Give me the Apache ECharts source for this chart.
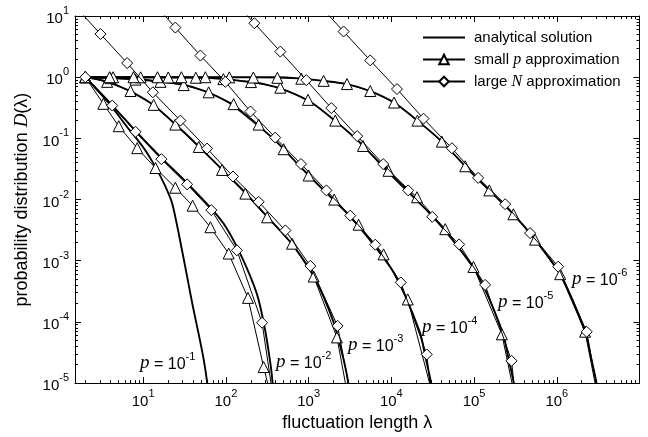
<!DOCTYPE html>
<html><head><meta charset="utf-8">
<script src="https://cdn.jsdelivr.net/npm/echarts/dist/echarts.min.js"></script>
<style>html,body{margin:0;padding:0;background:#fff}#c{width:648px;height:437px}</style>
</head><body><div id="c"></div>
<script>
// ---- data: [lambda, D(lambda)] ----
const pLabels = ['-1', '-2', '-3', '-4', '-5', '-6'];
const legendNames = ['analytical solution', 'small p approximation', 'large N approximation'];

const analytic1 = [[2,1],[2.82,0.603],[3.98,0.355],[6.31,0.158],[10.2,0.069],[14.1,0.0339],[18.2,0.0174],[22.4,0.00871],[27.5,0.0024],[34.0,5.5e-4],[39.8,1.82e-4],[46.9,6.31e-5],[53.7,2.51e-5],[59.6,1e-5],[63.1,5.0e-6]];

const analytic2 = [[2,1],[2.82,0.617],[4.23,0.347],[8.09,0.132],[16.6,0.0479],[34.0,0.0186],[66.8,0.00708],[100,0.00355],[157,0.00112],[238,2.82e-4],[295,7.94e-5],[347,2.0e-5],[367,1e-5],[389,3.16e-6]];
const small2 = [[2,1],[3.30,0.367],[5.07,0.158],[8.47,0.0692],[14.1,0.0328],[24.5,0.0156],[39.6,0.00794],[65.0,0.00353],[108,0.00131],[185,2.47e-4],[286,1.83e-5],[363,5.0e-6]];
const large2 = [[2,1],[4.23,0.344],[8.09,0.128],[16.6,0.0458],[34.0,0.0177],[66.8,0.00671],[136,0.00148],[274,9.7e-5],[398,3.16e-6]];

const analytic3 = [[2,1],[3.16,0.891],[5.01,0.724],[7.94,0.537],[13.4,0.347],[24.5,0.170],[47.0,0.0741],[89.9,0.0309],[172,0.0129],[316,0.00525],[631,0.00186],[1150,5.62e-4],[2000,1e-4],[2630,2.51e-5],[3020,1e-5],[3240,3.98e-6]];
const small3 = [[2,1],[3.67,0.839],[7.03,0.594],[13.4,0.353],[24.5,0.168],[47.0,0.0724],[89.9,0.0305],[172,0.0125],[315,0.00513],[631,0.0019],[1150,5.52e-4],[2200,5.58e-5],[3160,3.98e-6]];
const large3 = [[1.45,15.3],[3.05,5.07],[6.41,1.70],[13.1,0.566],[28.2,0.195],[59.3,0.0682],[122,0.0238],[249,0.00918],[524,0.00313],[1050,8.22e-4],[2240,8.61e-5],[3430,3.98e-6]];

const analytic4 = [[2,1],[7.94,0.933],[15.8,0.851],[29.1,0.771],[55.6,0.594],[108,0.385],[207,0.195],[408,0.0885],[782,0.035],[1530,0.0141],[2990,0.00575],[5470,0.00221],[11000,6.03e-4],[22000,6.92e-5],[26100,2.51e-5],[30200,1e-5],[33100,3.16e-6]];
const small4 = [[2,1],[4.03,0.964],[8.07,0.912],[16.2,0.839],[30.9,0.743],[61.9,0.566],[124,0.363],[249,0.168],[499,0.0665],[1000,0.0247],[2040,0.01],[4020,0.00388],[8050,0.00127],[15800,2.33e-4],[33100,5.0e-6]];
const large4 = [[11.7,20],[24.5,6.47],[49.2,2.26],[98.6,0.839],[198,0.275],[395,0.103],[809,0.0381],[1640,0.0141],[3190,0.00546],[6400,0.00183],[13000,4.42e-4],[26800,2.94e-5],[31600,3.98e-6]];

const analytic5 = [[2,1],[39.8,0.985],[77.6,0.955],[151,0.871],[291,0.771],[556,0.594],[1080,0.385],[2070,0.195],[4080,0.0885],[7820,0.035],[15300,0.0141],[29900,0.00575],[54700,0.00221],[110000,6.03e-4],[220000,6.92e-5],[261000,2.51e-5],[302000,1e-5],[331000,3.16e-6]];
const small5 = [[2,1],[4.33,0.998],[9.33,0.995],[20.1,0.99],[43.3,0.98],[93.3,0.93],[201,0.832],[455,0.673],[984,0.426],[2100,0.195],[4540,0.0752],[9250,0.0295],[20400,0.0109],[44800,0.00328],[98400,7.91e-4],[217000,6.27e-5],[331000,3.98e-6]];
const large5 = [[107,21.9],[221,7.62],[455,2.62],[938,0.895],[1880,0.313],[3870,0.109],[7980,0.038],[16000,0.0141],[31200,0.00522],[66100,0.00185],[136000,4.03e-4],[284000,2.31e-5],[324000,3.98e-6]];

const analytic6 = [[2,1],[398,0.998],[776,0.955],[1510,0.871],[2910,0.771],[5560,0.594],[10800,0.385],[20700,0.195],[40800,0.0885],[78200,0.035],[153000,0.0141],[299000,0.00575],[547000,0.00221],[1.10e6,6.03e-4],[2.20e6,6.92e-5],[2.61e6,2.51e-5],[3.02e6,1e-5],[3.31e6,3.16e-6]];
const small6 = [[2,1],[3.93,1],[7.64,1],[14.9,0.999],[29.0,0.999],[56.5,0.998],[110,0.993],[215,0.989],[419,0.977],[817,0.944],[1520,0.871],[2910,0.771],[5560,0.594],[10800,0.385],[20700,0.195],[40800,0.0885],[78200,0.035],[153000,0.0141],[299000,0.00575],[547000,0.00221],[1.10e6,6.03e-4],[2.20e6,6.92e-5],[3.31e6,3.98e-6]];
const large6 = [[1260,16.6],[2650,5.58],[5560,1.88],[11700,0.64],[24500,0.21],[54000,0.069],[112000,0.0226],[238000,0.0084],[476000,0.00283],[1.04e6,8.0e-4],[2.30e6,6.9e-5],[3.39e6,3.98e-6]];

// ---- layout (pixel positions of the p = 10^n annotations) ----
const annotationPos = [[140,362],[276,361],[348,344],[422,326],[498,301],[572,278]];

const SANS = 'Liberation Sans';
const SERIF = 'Liberation Serif';

function analytic(data) {
  return { name: legendNames[0], type: 'line', data: data, symbol: 'none', showSymbol: false,
    smooth: 0.25, lineStyle: { color: '#000', width: 1.9 }, itemStyle: { color: '#000' }, z: 2 };
}
function smallP(data) {
  return { name: legendNames[1], type: 'line', data: data, symbol: 'triangle', symbolSize: 11,
    showAllSymbol: true, lineStyle: { color: '#000', width: 1 },
    itemStyle: { color: '#fff', borderColor: '#000', borderWidth: 1 }, z: 3 };
}
function largeN(data) {
  return { name: legendNames[2], type: 'line', data: data, symbol: 'diamond', symbolSize: 11,
    showAllSymbol: true, lineStyle: { color: '#000', width: 1 },
    itemStyle: { color: '#fff', borderColor: '#000', borderWidth: 1 }, z: 4 };
}

function powLabel(v) {
  const e = Math.round(Math.log10(v));
  return '{b|10}{s|' + e + '}';
}
const tickRich = {
  b: { fontFamily: SANS, fontSize: 15, color: '#000', lineHeight: 21, verticalAlign: 'bottom' },
  s: { fontFamily: SANS, fontSize: 11, color: '#000', lineHeight: 12, verticalAlign: 'top' }
};

const axisCommon = {
  axisLine: { show: true, lineStyle: { color: '#000', width: 1 } },
  axisTick: { show: true, inside: true, length: 6, lineStyle: { color: '#000' } },
  minorTick: { show: true, splitNumber: 9, length: 3, lineStyle: { color: '#000' } },
  splitLine: { show: false }, minorSplitLine: { show: false }
};

const chart = echarts.init(document.getElementById('c'));
chart.setOption({
  animation: false,
  backgroundColor: '#fff',
  grid: { left: 75, right: 8.5, top: 16, bottom: 49 },
  legend: {
    orient: 'vertical', left: 417, top: 24, itemWidth: 42, itemHeight: 12, itemGap: 5,
    selectedMode: false,
    data: [{ name: legendNames[0], icon: 'path://M0,0H40V2H0Z' }, legendNames[1], legendNames[2]],
    formatter: function (n) {
      if (n === legendNames[1]) return 'small {i|p} approximation';
      if (n === legendNames[2]) return 'large {i|N} approximation';
      return n;
    },
    textStyle: { fontFamily: SANS, fontSize: 15, color: '#000', lineHeight: 17, padding: [0, 0, 0, 4],
      rich: { i: { fontFamily: SERIF, fontStyle: 'italic', fontSize: 16, color: '#000', lineHeight: 17 } } }
  },
  xAxis: [
    Object.assign({ type: 'log', logBase: 10, min: 1.5, max: 1e7, position: 'bottom',
      axisLabel: { formatter: powLabel, rich: tickRich, showMinLabel: false, showMaxLabel: false, margin: 5 },
      name: 'fluctuation length λ', nameLocation: 'middle', nameGap: 28,
      nameTextStyle: { fontFamily: SANS, fontSize: 18, color: '#000' } }, axisCommon),
    Object.assign({ type: 'log', logBase: 10, min: 1.5, max: 1e7, position: 'top',
      axisLabel: { show: false } }, axisCommon)
  ],
  yAxis: [
    Object.assign({ type: 'log', logBase: 10, min: 1e-5, max: 10, position: 'left',
      axisLabel: { formatter: powLabel, rich: tickRich, margin: 6 },
      name: 'probability distribution {i|D}(λ)', nameLocation: 'middle', nameGap: 42,
      nameTextStyle: { fontFamily: SANS, fontSize: 18, color: '#000',
        rich: { i: { fontFamily: SERIF, fontStyle: 'italic', fontSize: 19, color: '#000' } } } }, axisCommon),
    Object.assign({ type: 'log', logBase: 10, min: 1e-5, max: 10, position: 'right',
      axisLabel: { show: false } }, axisCommon)
  ],
  graphic: pLabels.map(function (e, i) {
    return { type: 'text', x: annotationPos[i][0], y: annotationPos[i][1], silent: true,
      style: { text: '{i|p}{t| = 10}{s|' + e + '}', verticalAlign: 'middle', align: 'left',
        rich: {
          i: { fontFamily: SERIF, fontStyle: 'italic', fontSize: 19, fill: '#000', lineHeight: 21, verticalAlign: 'bottom' },
          t: { fontFamily: SANS, fontSize: 16, fill: '#000', lineHeight: 21, verticalAlign: 'bottom' },
          s: { fontFamily: SANS, fontSize: 11, fill: '#000', lineHeight: 12, verticalAlign: 'top' }
        } } };
  }),
  series: [
    analytic(analytic1),
    analytic(analytic2), analytic(analytic3), analytic(analytic4), analytic(analytic5), analytic(analytic6),
    smallP(small2), smallP(small3), smallP(small4), smallP(small5), smallP(small6),
    largeN(large2), largeN(large3), largeN(large4), largeN(large5), largeN(large6)
  ]
});
</script></body></html>
